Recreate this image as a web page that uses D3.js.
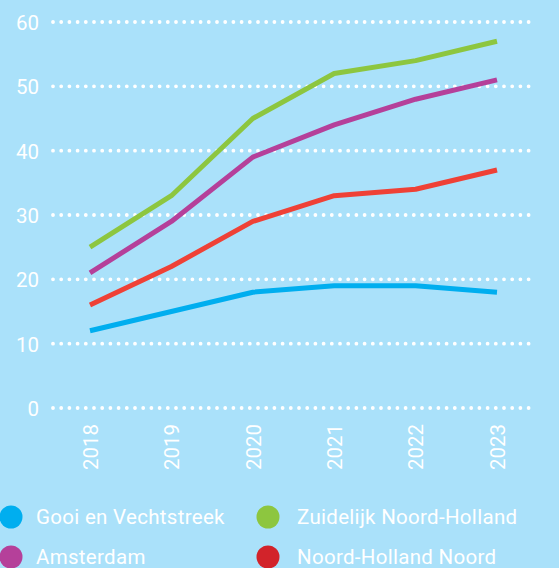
<!DOCTYPE html>
<html>
<head>
<meta charset="utf-8">
<script src="https://d3js.org/d3.v7.min.js"></script>
<style>
  html, body { margin: 0; padding: 0; background: #aae1fa; }
  svg { display: block; font-family: Roboto, "DejaVu Sans", sans-serif; }
</style>
</head>
<body>
<script>
// data
var years = ["2018", "2019", "2020", "2021", "2022", "2023"];
var yTicks = [0, 10, 20, 30, 40, 50, 60];

var gooi = [12, 15, 18, 19, 19, 18];
var zuidelijk = [25, 33, 45, 52, 54, 57];
var amsterdam = [21, 29, 39, 44, 48, 51];
var nhNoord = [16, 22, 29, 33, 34, 37];

var seriesNames = ["Gooi en Vechtstreek", "Zuidelijk Noord-Holland", "Amsterdam", "Noord-Holland Noord"];
var seriesValues = [gooi, zuidelijk, amsterdam, nhNoord];
var lineColors = ["#00aeef", "#8dc63f", "#b5409a", "#ef4136"];
var dotColors = ["#00aeef", "#8dc63f", "#b5409a", "#d2232a"];

var width = 559, height = 568;

var svg = d3.select('body').append('svg')
  .attr('width', width)
  .attr('height', height);

var x = d3.scalePoint()
  .domain(years)
  .range([90, 497]);

var y = d3.scaleLinear()
  .domain([0, 60])
  .range([408, 22]);

// dotted grid lines
svg.append('g')
  .selectAll('line')
  .data(yTicks)
  .enter()
  .append('line')
  .attr('x1', 53)
  .attr('x2', 533)
  .attr('y1', function(d) { return y(d); })
  .attr('y2', function(d) { return y(d); })
  .attr('stroke', 'white')
  .attr('stroke-width', 3.8)
  .attr('stroke-linecap', 'round')
  .attr('stroke-dasharray', '0 8.2');

// y labels
var yAxis = d3.axisLeft(y).tickValues(yTicks).tickSize(0).tickPadding(0);
var gy = svg.append('g')
  .attr('transform', 'translate(39,0)')
  .call(yAxis);
gy.select('.domain').remove();
gy.selectAll('text')
  .attr('fill', 'white')
  .attr('font-size', 20.5)
  .attr('font-family', 'Roboto, sans-serif')
  .attr('dy', '0.36em');

// x labels, rotated
var xAxis = d3.axisBottom(x).tickSize(0).tickPadding(0);
var gx = svg.append('g')
  .attr('transform', 'translate(0,424)')
  .call(xAxis);
gx.select('.domain').remove();
gx.selectAll('text')
  .attr('fill', 'white')
  .attr('font-size', 20.5)
  .attr('font-family', 'Roboto, sans-serif')
  .attr('text-anchor', 'end')
  .attr('transform', 'rotate(-90)')
  .attr('x', 0)
  .attr('y', 0)
  .attr('dy', '0.36em');

// lines
var line = d3.line()
  .x(function(d, i) { return x(years[i]); })
  .y(function(d) { return y(d); });

var order = [0, 3, 2, 1];
svg.append('g')
  .selectAll('path')
  .data(order)
  .enter()
  .append('path')
  .attr('d', function(k) { return line(seriesValues[k]); })
  .attr('fill', 'none')
  .attr('stroke', function(k) { return lineColors[k]; })
  .attr('stroke-width', 5)
  .attr('stroke-linejoin', 'round')
  .attr('stroke-linecap', 'butt');

// legend
var legendPos = [[11, 517, 25], [268, 517, 29], [11, 557, 25], [268, 557, 29]];
var lg = svg.append('g')
  .selectAll('g')
  .data(seriesNames)
  .enter()
  .append('g')
  .attr('transform', function(d, i) { return 'translate(' + legendPos[i][0] + ',' + legendPos[i][1] + ')'; });
lg.append('circle')
  .attr('r', 11.5)
  .attr('fill', function(d, i) { return dotColors[i]; });
lg.append('text')
  .attr('x', function(d, i) { return legendPos[i][2]; })
  .attr('dy', '0.36em')
  .attr('fill', 'white')
  .attr('font-size', 20.5)
  .attr('letter-spacing', 0.3)
  .text(function(d) { return d; });
</script>
</body>
</html>
